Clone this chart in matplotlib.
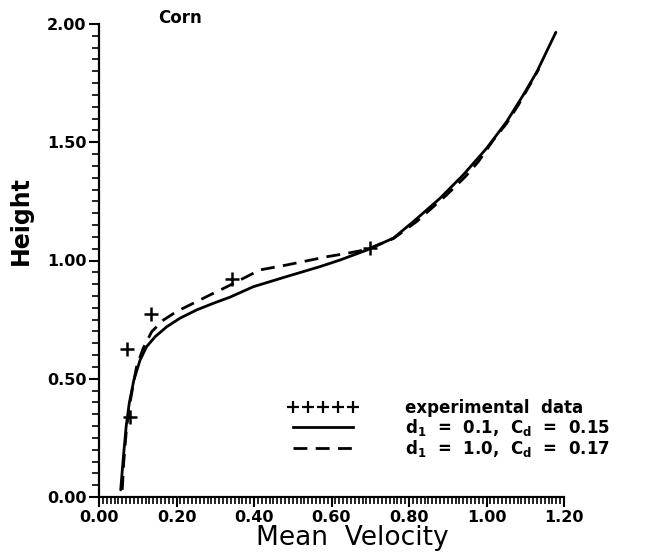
import matplotlib
matplotlib.use("Agg")
import matplotlib.pyplot as plt
from matplotlib.ticker import MultipleLocator, FormatStrFormatter
from matplotlib.lines import Line2D

plt.rcParams['font.family'] = ['DejaVu Sans']
plt.rcParams['mathtext.default'] = 'bf'

# experimental data
exp_u = [0.080, 0.072, 0.134, 0.343, 0.700]
exp_z = [0.338, 0.626, 0.774, 0.922, 1.053]

# d1 = 0.1, Cd = 0.15 (solid)
sol_u = [0.056, 0.063, 0.070, 0.078, 0.090, 0.106, 0.123, 0.145, 0.175, 0.209,
         0.252, 0.295, 0.338, 0.398, 0.484, 0.570, 0.622, 0.691, 0.760, 0.811,
         0.880, 0.940, 1.000, 1.052, 1.095, 1.130, 1.179]
sol_z = [0.030, 0.171, 0.297, 0.396, 0.495, 0.579, 0.636, 0.678, 0.720, 0.756,
         0.791, 0.819, 0.845, 0.889, 0.932, 0.974, 1.002, 1.044, 1.095, 1.164,
         1.263, 1.362, 1.474, 1.587, 1.700, 1.798, 1.965]

# d1 = 1.0, Cd = 0.17 (dashed)
das_u = [0.060, 0.064, 0.071, 0.079, 0.090, 0.097, 0.114, 0.136, 0.166, 0.200,
         0.243, 0.286, 0.330, 0.415, 0.484, 0.588, 0.639, 0.690, 0.760, 0.820,
         0.897, 0.945, 0.979, 1.018, 1.052, 1.082, 1.117, 1.135]
das_z = [0.030, 0.150, 0.290, 0.390, 0.490, 0.551, 0.629, 0.699, 0.748, 0.784,
         0.819, 0.854, 0.889, 0.960, 0.981, 1.016, 1.030, 1.046, 1.093, 1.165,
         1.277, 1.354, 1.418, 1.510, 1.580, 1.657, 1.757, 1.810]

fig = plt.figure(figsize=(6.49, 5.58), dpi=100)
ax = fig.add_axes([99/649, 1-497/558, (564-99)/649, (497-24)/558])

ax.plot(sol_u, sol_z, color='black', lw=2.0, solid_capstyle='round',
        solid_joinstyle='round')
ax.plot(das_u, das_z, color='black', lw=2.0, dashes=(5, 3))
ax.plot(exp_u, exp_z, linestyle='none', marker='+', color='black',
        markersize=10, mew=1.8)

ax.set_xlim(0, 1.2)
ax.set_ylim(0, 2.0)
for s in ['top', 'right']:
    ax.spines[s].set_visible(False)
for s in ['left', 'bottom']:
    ax.spines[s].set_linewidth(1.6)

ax.xaxis.set_major_locator(MultipleLocator(0.2))
ax.xaxis.set_minor_locator(MultipleLocator(0.01))
ax.yaxis.set_major_locator(MultipleLocator(0.5))
ax.yaxis.set_minor_locator(MultipleLocator(0.05))
ax.xaxis.set_major_formatter(FormatStrFormatter('%.2f'))
ax.yaxis.set_major_formatter(FormatStrFormatter('%.2f'))
ax.tick_params(which='major', direction='out', length=7, width=1.5,
               labelsize=11.5, pad=2)
ax.tick_params(which='minor', direction='out', length=5, width=1.2)
for lab in ax.get_xticklabels() + ax.get_yticklabels():
    lab.set_fontweight('bold')

ax.set_xlabel('Mean  Velocity', fontsize=19, va='top')
ax.xaxis.set_label_coords((352-99)/465, (497-525)/473)
ax.set_ylabel('Height', fontsize=17, fontweight='bold')
ax.yaxis.set_label_coords((33-99)/465, (497-221)/473)

fig.text(180/649, 1-18/558, 'Corn', fontsize=12, fontweight='bold',
         ha='center', va='center')

handles = [
    Line2D([], [], linestyle='none', marker='+', color='black', markersize=8, mew=1.6),
    Line2D([], [], color='black', lw=2.0),
    Line2D([], [], color='black', lw=2.0, dashes=(5, 3)),
]
labels = ['experimental  data',
          r'd$_1$  =  0.1,  C$_d$  =  0.15',
          r'd$_1$  =  1.0,  C$_d$  =  0.17']
leg = ax.legend(handles, labels, loc='upper left', frameon=False,
                bbox_to_anchor=(288/649, 1-399/558), bbox_transform=fig.transFigure,
                borderpad=0, borderaxespad=0, numpoints=5, handlelength=4.2,
                handletextpad=2.8, labelspacing=0.0,
                prop={'weight': 'bold', 'size': 12})

fig.savefig('out.png', dpi=100)
